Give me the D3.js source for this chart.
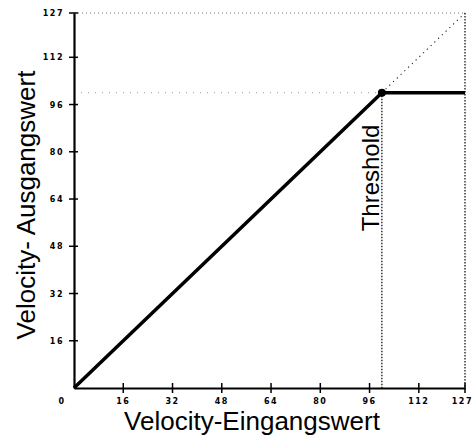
<!DOCTYPE html>
<html><head><meta charset="utf-8">
<script src="https://cdn.jsdelivr.net/npm/d3@7"></script>
<style>
body{margin:0;background:#fff;}
svg{display:block;}
</style>
</head><body>
<svg id="chart" width="474" height="439"></svg>
<script>
// Data
const inputValues = [0, 100, 127];      // Velocity-Eingangswert
const outputValues = [0, 100, 100];     // Velocity-Ausgangswert
const thresholdValue = 100;
const maxValue = 127;
const xTickValues = [0, 16, 32, 48, 64, 80, 96, 112, 127];
const xTickLabels = ["0", "16", "32", "48", "64", "80", "96", "112", "127"];
const yTickValues = [16, 32, 48, 64, 80, 96, 112, 127];
const yTickLabels = ["16", "32", "48", "64", "80", "96", "112", "127"];
const xTitle = "Velocity-Eingangswert";
const yTitle = "Velocity- Ausgangswert";
const thresholdLabel = "Threshold";

const svg = d3.select("#chart");
const x = d3.scaleLinear().domain([0, maxValue]).range([74, 465]);
const y = d3.scaleLinear().domain([0, maxValue]).range([388, 13]);

const tickFont = "DejaVu Sans";
const titleFont = "Liberation Sans, Arial, sans-serif";

// grid lines (dotted)
svg.append("line")
  .attr("x1", x(0)).attr("x2", x(maxValue))
  .attr("y1", y(maxValue)).attr("y2", y(maxValue))
  .attr("stroke", "#777").attr("stroke-width", 1).attr("stroke-dasharray", "1,3");
svg.append("line")
  .attr("x1", x(0)).attr("x2", x(thresholdValue))
  .attr("y1", y(thresholdValue)).attr("y2", y(thresholdValue))
  .attr("stroke", "#999").attr("stroke-width", 1).attr("stroke-dasharray", "1,6");
// vertical dotted at max
svg.append("line")
  .attr("x1", x(maxValue)).attr("x2", x(maxValue))
  .attr("y1", y(maxValue)).attr("y2", y(0))
  .attr("stroke", "#000").attr("stroke-width", 1.2).attr("stroke-dasharray", "1.5,1.5");
// vertical dotted at threshold
svg.append("line")
  .attr("x1", x(thresholdValue)).attr("x2", x(thresholdValue))
  .attr("y1", y(thresholdValue)).attr("y2", y(0))
  .attr("stroke", "#000").attr("stroke-width", 1.2).attr("stroke-dasharray", "1.5,1.5");
// diagonal dotted continuation
svg.append("line")
  .attr("x1", x(thresholdValue)).attr("x2", x(maxValue))
  .attr("y1", y(thresholdValue)).attr("y2", y(maxValue))
  .attr("stroke", "#222").attr("stroke-width", 1.1).attr("stroke-dasharray", "1.2,4");

// axes
const xAxis = d3.axisBottom(x).tickValues(xTickValues).tickSize(0).tickFormat("");
const gx = svg.append("g").attr("transform", `translate(0,${y(0)})`).call(xAxis);
gx.select(".domain").attr("stroke", "#000").attr("stroke-width", 2.2);
const yAxis = d3.axisLeft(y).tickValues(yTickValues).tickSize(0).tickFormat("");
const gy = svg.append("g").attr("transform", `translate(${x(0)},0)`).call(yAxis);
gy.select(".domain").attr("stroke", "#000").attr("stroke-width", 2.2);

// crossing tick marks
svg.selectAll(".xt").data(xTickValues.slice(1)).enter().append("line")
  .attr("x1", d => x(d)).attr("x2", d => x(d))
  .attr("y1", y(0) - 5).attr("y2", y(0) + 5)
  .attr("stroke", "#000").attr("stroke-width", 1.5);
svg.selectAll(".yt").data(yTickValues).enter().append("line")
  .attr("x1", x(0) - 5).attr("x2", x(0) + 4)
  .attr("y1", d => y(d)).attr("y2", d => y(d))
  .attr("stroke", "#000").attr("stroke-width", 1.5);

// tick labels
const nX = xTickValues.length;
svg.selectAll(".xl").data(xTickValues).enter().append("text")
  .attr("x", (d, i) => i === 0 ? x(d) - 12 : (i === nX - 1 ? 473 : x(d)))
  .attr("y", y(0) + 16)
  .attr("text-anchor", (d, i) => i === nX - 1 ? "end" : "middle")
  .attr("font-family", tickFont).attr("font-weight", "bold")
  .attr("font-size", 8).attr("letter-spacing", 1.5)
  .text((d, i) => xTickLabels[i]);
svg.selectAll(".yl").data(yTickValues).enter().append("text")
  .attr("x", x(0) - 10)
  .attr("y", d => y(d) + 3)
  .attr("text-anchor", "end")
  .attr("font-family", tickFont).attr("font-weight", "bold")
  .attr("font-size", 8).attr("letter-spacing", 1.5)
  .text((d, i) => yTickLabels[i]);

// data line
const line = d3.line().x(d => x(d[0])).y(d => y(d[1]));
svg.append("path")
  .datum(inputValues.map((v, i) => [v, outputValues[i]]))
  .attr("d", line)
  .attr("fill", "none").attr("stroke", "#000").attr("stroke-width", 3.5)
  .attr("stroke-linejoin", "round");
svg.append("circle")
  .attr("cx", x(thresholdValue)).attr("cy", y(thresholdValue)).attr("r", 4)
  .attr("fill", "#000");

// titles
svg.append("text")
  .attr("x", 252).attr("y", 430)
  .attr("text-anchor", "middle")
  .attr("font-family", titleFont).attr("font-size", 26)
  .text(xTitle);
svg.append("text")
  .attr("transform", "translate(35,205) rotate(-90)")
  .attr("text-anchor", "middle")
  .attr("font-family", titleFont).attr("font-size", 26)
  .text(yTitle);
svg.append("text")
  .attr("transform", `translate(${x(thresholdValue) - 3},178) rotate(-90)`)
  .attr("text-anchor", "middle")
  .attr("font-family", titleFont).attr("font-size", 24)
  .text(thresholdLabel);
</script>
</body></html>
